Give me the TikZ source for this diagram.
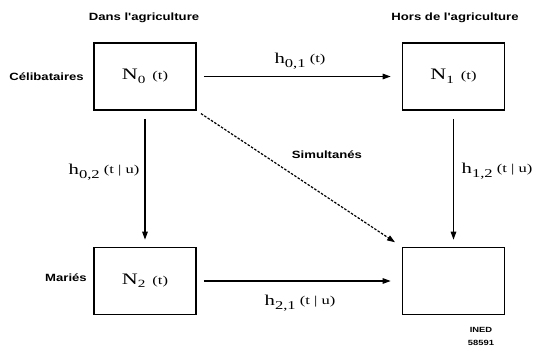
\documentclass[tikz,border=0pt]{standalone}
\usepackage{fontspec}
\setmainfont{Liberation Serif}
\newfontfamily\lsans{Liberation Sans}
\usetikzlibrary{arrows.meta}
\newcommand\hstretch[1]{\scalebox{1.25}[1]{#1}}
\newcommand\mstretch[1]{\scalebox{1.38}[1]{#1}}
\newcommand\Nlab[1]{\mstretch{\fontsize{16}{16}\selectfont N\raisebox{-3.5pt}{\fontsize{11}{11}\selectfont #1}\hspace{5pt}\fontsize{12}{12}\selectfont(t)}}
\newcommand\hlab[2]{\mstretch{\fontsize{15}{15}\selectfont h\raisebox{-3.5pt}{\fontsize{12}{12}\selectfont #1}\hspace{3pt}\raisebox{1pt}{\fontsize{12}{12}\selectfont(#2)}}}
\tikzset{
  box/.style={draw, minimum width=102pt, minimum height=67pt, inner sep=0pt, line width=1.6pt},
  arr/.style={line width=1.2pt, -{Triangle[length=8pt,width=5.5pt]}},
  dashedarr/.style={line width=1.2pt, dash pattern=on 2.5pt off 1.5pt, -{Triangle[length=8pt,width=5.5pt]}},
  lbl/.style={font=\lsans\bfseries\fontsize{10.5}{12}\selectfont, inner sep=0pt},
  small/.style={font=\lsans\bfseries\fontsize{7.5}{8}\selectfont, inner sep=0pt},
  mlbl/.style={inner sep=0pt}
}
\begin{document}
\begin{tikzpicture}[x=1pt,y=-1pt]
\useasboundingbox (0,0) rectangle (533,349);
\node[box] (n0) at (145,76.5) {\Nlab{0}};
\node[box] (n1) at (453.5,76.5) {\Nlab{1}};
\node[box] (n2) at (145,281) {\Nlab{2}};
\node[box] (n3) at (453.5,281) {};

\draw[arr, shorten <=7pt, shorten >=11pt] (n0) -- (n1);
\draw[arr, shorten <=8pt, shorten >=7pt] (n0) -- (n2);
\draw[arr, shorten <=8pt, shorten >=7pt] (n1) -- (n3);
\draw[arr, shorten <=7pt, shorten >=11pt] (n2) -- (n3);
\draw[dashedarr, shorten <=5pt, shorten >=8pt] (n0.south east) -- (n3.north west);

\node[lbl] (t1) at (144,18) {\hstretch{Dans l'agriculture}};
\node[lbl] (t2) at (455,18) {\hstretch{Hors de l'agriculture}};
\node[lbl, anchor=east] (t3) at (84,77) {\hstretch{Célibataires}};
\node[lbl, anchor=east] (t4) at (87,278) {\hstretch{Mariés}};
\node[lbl] (t5) at (327,155) {\hstretch{Simultanés}};

\node[mlbl] (h01) at (300,61) {\hlab{0,1}{t}};
\node[mlbl] (h02) at (104,172) {\hlab{0,2}{t | u}};
\node[mlbl] (h12) at (497,171) {\hlab{1,2}{t | u}};
\node[mlbl] (h21) at (300,303) {\hlab{2,1}{t | u}};

\node[small] (i1) at (481,330) {\hstretch{INED}};
\node[small] (i2) at (481,343) {\hstretch{58591}};
\end{tikzpicture}
\end{document}
